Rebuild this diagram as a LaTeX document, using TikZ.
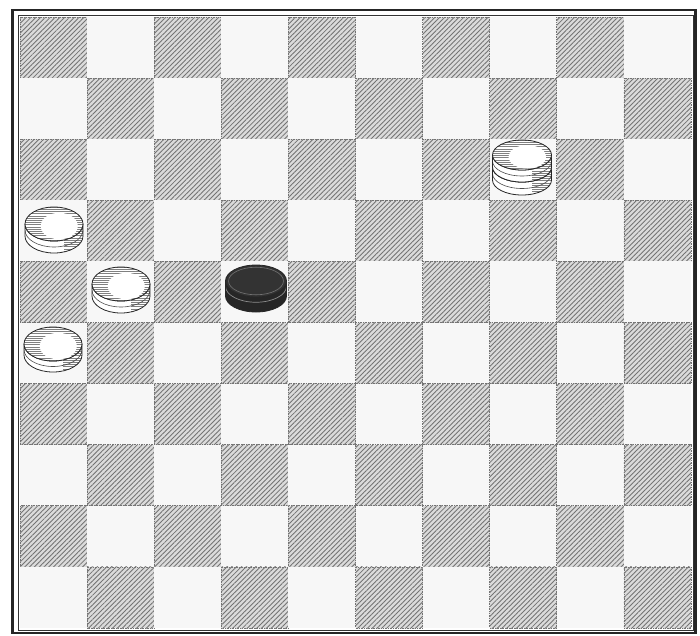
\documentclass[tikz,border=0pt]{standalone}
\usetikzlibrary{patterns.meta}
\tikzset{
 darksq/.style={fill=black!14},
 hatch/.style={pattern={Lines[angle=45,distance=3.4pt,line width=0.85pt]},pattern color=black!55},
 sqedge/.style={draw=black!55,densely dotted,line width=0.7pt},
 lightsq/.style={fill=black!3},
 outline/.style={draw=black!85,line width=0.8pt},
}
% white piece: cx cy rx ry h
\newcommand\wpiece[5]{%
 \fill[white] (#1-#3,#2) -- (#1-#3,#2+#5) arc[start angle=180,end angle=0,x radius=#3,y radius=#4] -- (#1+#3,#2) arc[start angle=0,end angle=180,x radius=#3,y radius=#4] -- cycle;
 \begin{scope}
 \clip (#1-#3,#2) -- (#1-#3,#2+#5) arc[start angle=180,end angle=0,x radius=#3,y radius=#4] -- (#1+#3,#2) arc[start angle=0,end angle=180,x radius=#3,y radius=#4] -- cycle;
 \foreach \k in {0,2.2,...,60} \draw[black!50,line width=0.4pt] (#1+0.35*#3,#2-#4+\k) -- (#1+#3,#2-#4+\k);
 \draw[black!70,line width=0.6pt] (#1-#3,#2+0.5*#5) arc[start angle=180,end angle=0,x radius=#3,y radius=#4];
 \end{scope}
 \draw[outline] (#1-#3,#2) -- (#1-#3,#2+#5) arc[start angle=180,end angle=0,x radius=#3,y radius=#4] -- (#1+#3,#2) arc[start angle=0,end angle=180,x radius=#3,y radius=#4] -- cycle;
 \fill[white] (#1,#2) ellipse[x radius=#3,y radius=#4];
 \begin{scope}
 \clip (#1,#2) ellipse[x radius=#3,y radius=#4];
 \foreach \k in {0,2.2,...,40} \draw[black!50,line width=0.45pt] (#1-#3,#2-#4+\k) -- (#1+#3,#2-#4+\k);
 \fill[white] (#1+0.18*#3,#2+0.12*#4) ellipse[x radius=0.64*#3,y radius=0.78*#4];
 \end{scope}
 \draw[outline] (#1,#2) ellipse[x radius=#3,y radius=#4];
}
% black piece
\newcommand\bpiece[5]{%
 \fill[black!85] (#1-#3,#2) -- (#1-#3,#2+#5) arc[start angle=180,end angle=0,x radius=#3,y radius=#4] -- (#1+#3,#2) arc[start angle=0,end angle=180,x radius=#3,y radius=#4] -- cycle;
 \begin{scope}
 \clip (#1-#3,#2) -- (#1-#3,#2+#5) arc[start angle=180,end angle=0,x radius=#3,y radius=#4] -- (#1+#3,#2) arc[start angle=0,end angle=180,x radius=#3,y radius=#4] -- cycle;
 \draw[black!45,line width=0.7pt] (#1-#3,#2+0.35*#5) arc[start angle=180,end angle=0,x radius=#3,y radius=#4];
 \end{scope}
 \draw[outline] (#1-#3,#2) -- (#1-#3,#2+#5) arc[start angle=180,end angle=0,x radius=#3,y radius=#4] -- (#1+#3,#2) arc[start angle=0,end angle=180,x radius=#3,y radius=#4] -- cycle;
 \fill[black!80] (#1,#2) ellipse[x radius=#3,y radius=#4];
 \draw[black!55,line width=0.6pt] (#1,#2) ellipse[x radius=0.9*#3,y radius=0.86*#4];
 \draw[outline] (#1,#2) ellipse[x radius=#3,y radius=#4];
}
\begin{document}
\begin{tikzpicture}[x=1pt,y=-1pt]
\useasboundingbox (0,0) rectangle (700,635);
\fill[white] (0,0) rectangle (700,635);
\foreach \r in {0,...,9}{
 \foreach \c in {0,...,9}{
  \pgfmathsetmacro\xa{20+67.1*\c}
  \pgfmathsetmacro\ya{17+61.1*\r}
  \pgfmathsetmacro\xb{\xa+67.1}
  \pgfmathsetmacro\yb{\ya+61.1}
  \pgfmathtruncatemacro\p{mod(\r+\c,2)}
  \ifnum\p=0
   \fill[darksq] (\xa,\ya) rectangle (\xb,\yb);
   \fill[hatch] (\xa,\ya) rectangle (\xb,\yb);
   \draw[sqedge] (\xa,\ya) rectangle (\xb,\yb);
  \else
   \fill[lightsq] (\xa,\ya) rectangle (\xb,\yb);
  \fi
 }
}
\draw[black!85,line width=2.6pt] (12.5,10) rectangle (695.5,633);
\draw[black!80,line width=0.8pt] (18,15.3) rectangle (693,630);
% pieces
\wpiece{54}{224}{29}{17}{12}
\wpiece{121}{284}{29}{17}{12}
\wpiece{53}{344}{29}{17}{11}
\bpiece{256}{281}{30.5}{16}{15}
\wpiece{522}{167}{29.5}{15}{13}
\wpiece{522}{155}{29.5}{15}{12}
\end{tikzpicture}
\end{document}
